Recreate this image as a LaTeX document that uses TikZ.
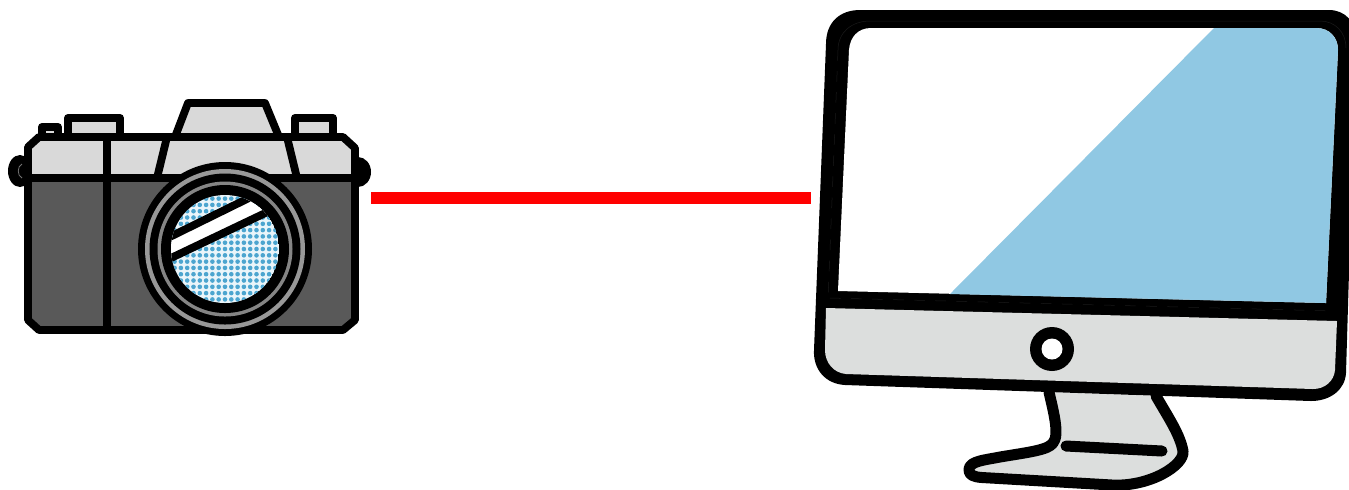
\documentclass[tikz,border=0pt]{standalone}
\usepackage{tikz}
\usetikzlibrary{calc}
\definecolor{camlight}{HTML}{D9D9D9}
\definecolor{camdark}{HTML}{595959}
\definecolor{camring}{HTML}{989898}
\definecolor{camringin}{HTML}{858585}
\definecolor{glassdot}{HTML}{4CA5CF}
\definecolor{glassbg}{HTML}{EAF5FA}
\definecolor{monblue}{HTML}{90C8E3}
\definecolor{monchin}{HTML}{DCDEDD}
\definecolor{monseam}{HTML}{1A1A1A}
\tikzset{
  camline/.style={line width=0.78mm,line join=round,line cap=round},
  monline/.style={line width=1.1mm,line join=round,line cap=round},
  monseamline/.style={monseam,line width=0.05mm},
}
\begin{document}
\begin{tikzpicture}[x=0.1mm,y=-0.1mm]
      \useasboundingbox (0,0) rectangle (1349,489);
      % strap lugs
      \fill (20,171) ellipse (12 and 16);
      \fill (358,172) ellipse (13 and 15);
      \draw[black!55,line width=0.08mm] (22,164) .. controls (17,166) and (17,176) .. (22,178);
      % top plate parts
      \draw[camline,fill=camlight] (42,137) -- (42,127) -- (58,127) -- (58,137);
      \draw[camline,fill=camlight] (68,137) -- (68,118) -- (120,118) -- (120,137);
      \draw[camline,fill=camlight] (295,137) -- (295,118) -- (333,118) -- (333,137);
      \draw[camline,fill=camlight] (175,137) -- (188,103) -- (265,103) -- (279,137);
      % body
      \fill[camlight] (39,137) -- (28,147) -- (28,178) -- (355,178) -- (355,148) -- (343,137) -- cycle;
      \fill[camdark] (28,178) -- (28,320) -- (39,330) -- (343,330) -- (355,320) -- (355,178) -- cycle;
      \draw[camline] (39,137) -- (28,147) -- (28,320) -- (39,330) -- (343,330) -- (355,320) -- (355,148) -- (343,137) -- cycle;
      \draw[camline] (28,178) -- (355,178);
      \draw[camline] (107,137) -- (107,330);
      \draw[camline] (167,137) -- (157,178);
      \draw[camline] (287,137) -- (297,178);
      % lens
      \coordinate (lens) at (225,249);
      \fill (lens) circle (87);
      \fill[camring] (lens) circle (80);
      \fill (lens) circle (75.5);
      \fill[camringin] (lens) circle (67.5);
      \fill (lens) circle (64);
      \begin{scope}
        \clip (lens) circle (54);
        \fill[glassbg] (lens) circle (54);
        \foreach \i in {-9,...,9} {
          \foreach \j in {-9,...,9} {
            \fill[glassdot] ($(lens)+(\i*6.3,\j*6.3)$) circle (2.3);
          }
        }
        \draw[camline,fill=white,line cap=butt] (150,246.7) -- (280,182.7) -- (280,206) -- (150,268) -- cycle;
      \end{scope}
      % link
      \coordinate (camright) at (371,198);
      \coordinate (monleft) at (811,198);
      \draw[red,line width=1.2mm] (camright) -- (monleft);
      % stand
      \draw[monline,fill=monchin] (1049,392) .. controls (1053,410) and (1060,435) .. (1053,443)
        .. controls (1048,450) and (1030,452) .. (1000,457)
        .. controls (985,460) and (970,461) .. (969,469)
        .. controls (968,475) and (974,477) .. (982,477.5)
        -- (1112,485) .. controls (1150,487) and (1185,465) .. (1183,451)
        .. controls (1180,435) and (1170,420) .. (1156,396);
      \draw[monline] (1066,446) -- (1162,451);
      % monitor
      \fill (826,44) .. controls (826,22) and (840,10) .. (860,10) -- (1329,10)
        .. controls (1345,10) and (1356,22) .. (1356,38) -- (1346,373)
        .. controls (1345,390) and (1330,401) .. (1311,401) -- (845,385)
        .. controls (826,384) and (813,370) .. (814,350) -- cycle;
      \fill[white] (849,50) .. controls (850,37) and (858,28) .. (871,28) -- (1316,28)
        .. controls (1330,28) and (1338,38) .. (1338,50) -- (1326,303) -- (838,291) -- cycle;
      \fill[monblue] (1214,28) -- (1316,28) .. controls (1330,28) and (1338,38) .. (1338,50)
        -- (1326,303) -- (950,294) -- cycle;
      \fill[monchin] (826,308) -- (1337,321) -- (1335,370)
        .. controls (1334,381) and (1325,389) .. (1313,389) -- (846,374)
        .. controls (834,373) and (825,363) .. (825,350) -- cycle;
      \draw[monseamline] (838,50) .. controls (838,32) and (852,21) .. (870,21) -- (1320,21)
        .. controls (1335,21) and (1346,32) .. (1346,48);
      \draw[monseamline,dashed] (838,50) -- (828,300);
      \draw[monseamline,dashed] (830,298) -- (1335,311);
      % power button
      \fill (1052,349) circle (22);
      \fill[white] (1052,349) circle (10.5);
    \end{tikzpicture}
\end{document}
